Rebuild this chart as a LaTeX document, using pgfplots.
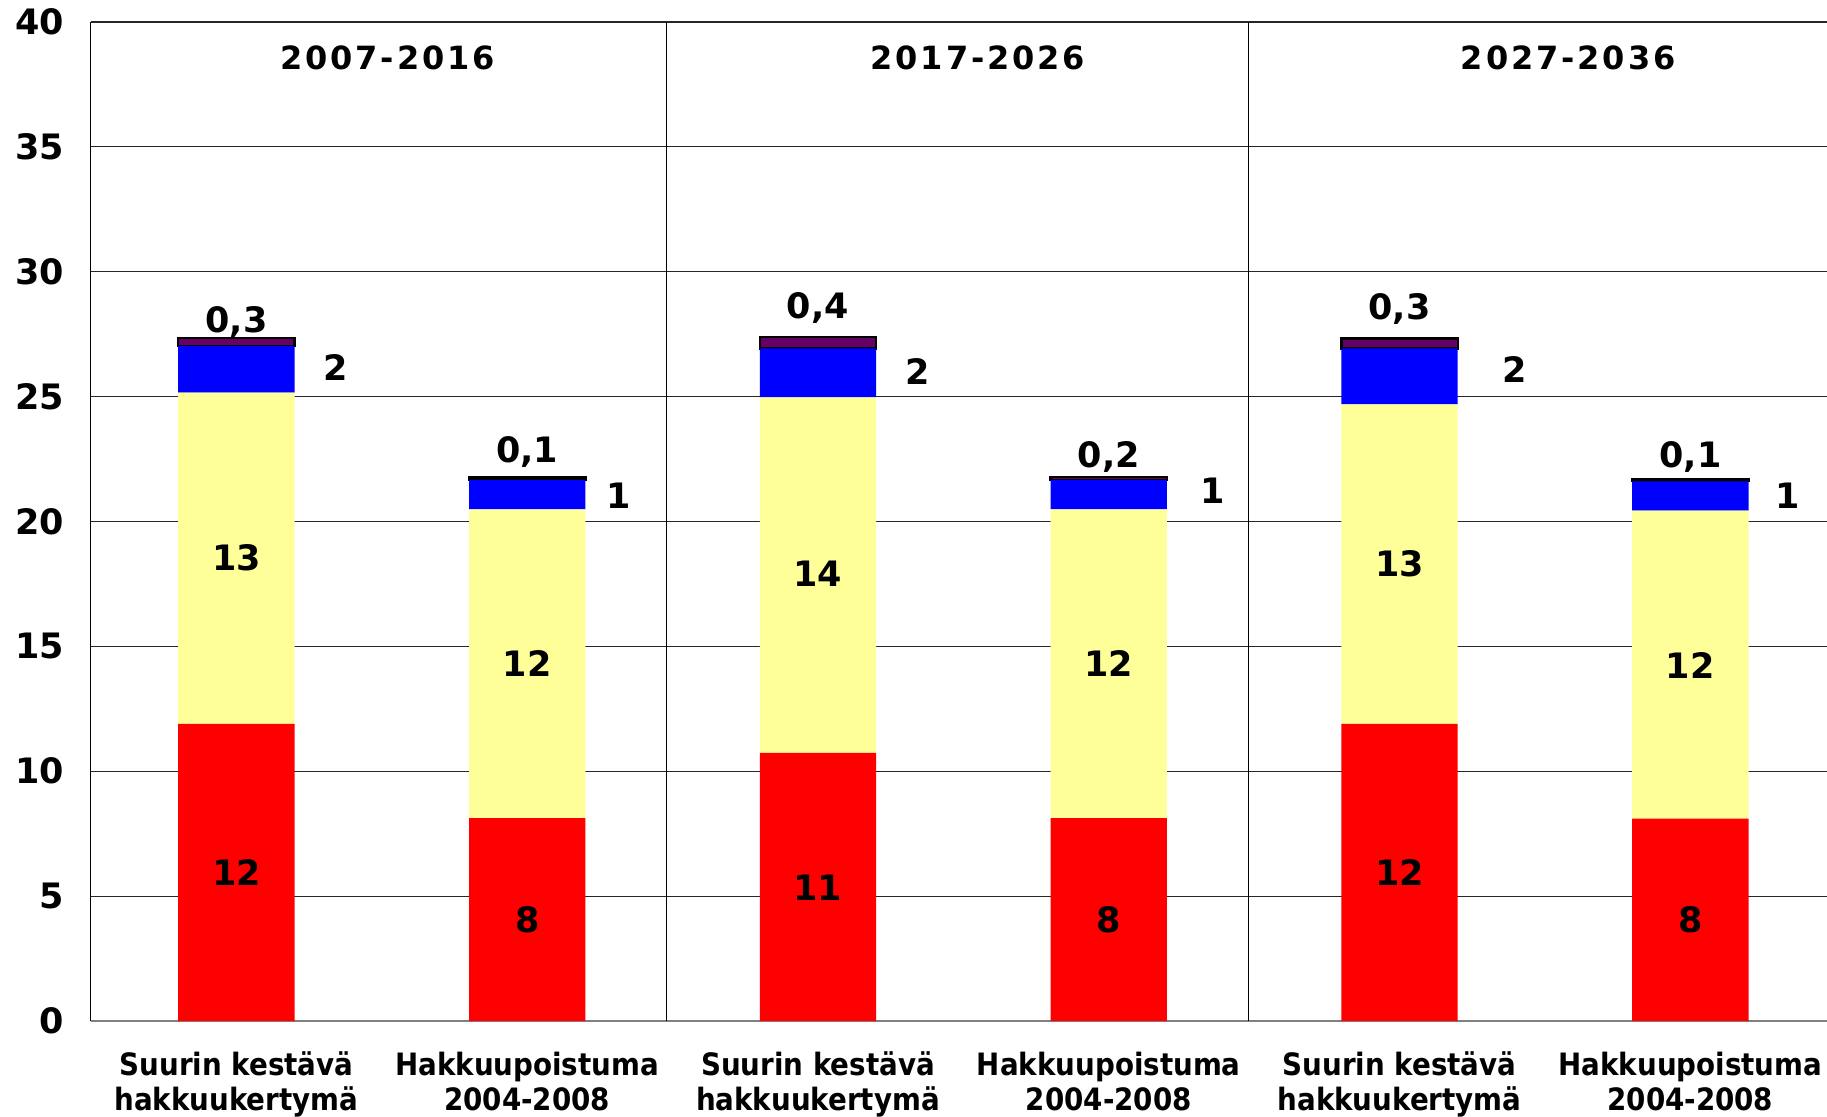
\documentclass[border=0pt]{standalone}
\usepackage{pgfplots}
\pgfplotsset{compat=1.18}
\usepackage{pgfplotstable}
\usepackage{fontspec}
\setmainfont{DejaVu Sans}
\newfontfamily\condfont{DejaVu Sans Condensed}
\definecolor{cred}{RGB}{255,0,0}
\definecolor{cyel}{RGB}{255,255,153}
\definecolor{cblue}{RGB}{0,0,255}
\definecolor{cpurp}{RGB}{102,0,102}

\pgfplotstableread{
x red yellow blue purple
0 11.9 13.26 1.86 0.33
1 8.12 12.37 1.17 0.10
2 10.74 14.23 1.96 0.45
3 8.12 12.37 1.17 0.12
4 11.9 12.79 2.24 0.40
5 8.10 12.34 1.17 0.10
}\data

\pgfplotstableread{
x y label
0 5.93 12
1 4.06 8
2 5.32 11
3 4.06 8
4 5.93 12
5 4.06 8
0 18.53 13
1 14.33 12
2 17.92 14
3 14.33 12
4 18.30 13
5 14.24 12
0.34 26.18 2
1.316 21.05 1
2.344 26.00 2
3.356 21.24 1
4.396 26.09 2
5.336 21.05 1
0 28.0 0,3
1 22.78 0,1
2 28.56 0,4
3 22.59 0,2
4 28.52 0,3
5 22.59 0,1
}\labels

\pgfplotstableread{
x y label
0.52 38.55 2007-2016
2.55 38.55 2017-2026
4.58 38.55 2027-2036
}\titles

\begin{document}
\begin{tikzpicture}
\useasboundingbox (0,0) rectangle (913.5pt,558pt);
\pgfplotsset{common/.style={
  at={(45.5pt,47.5pt)}, anchor=south west, scale only axis,
  width=868pt, height=499.5pt,
  xmin=-0.5, xmax=5.47, ymin=0, ymax=40}}
\begin{axis}[common,
  ybar stacked, bar width=0.4,
  axis x line*=bottom, axis y line*=left,
  x axis line style={draw=gray, line width=1.3pt},
  y axis line style={draw=black, line width=0.5pt},
  ymajorgrids, major grid style={black!85, line width=0.6pt},
  major tick length=0pt,
  ytick={0,5,...,40},
  xtick={0,1,2,3,4,5},
  xticklabels={Suurin kestävä\\hakkuukertymä, Hakkuupoistuma\\2004-2008, Suurin kestävä\\hakkuukertymä, Hakkuupoistuma\\2004-2008, Suurin kestävä\\hakkuukertymä, Hakkuupoistuma\\2004-2008},
  xticklabel style={align=center, font=\condfont\bfseries\fontsize{15.4}{17.5}\selectfont, yshift=-12pt},
  /pgf/number format/assume math mode=true,
  yticklabel style={font=\bfseries\fontsize{17.5}{20}\selectfont, xshift=-10pt},
  extra x ticks={1.48,3.48}, extra x tick labels={},
  extra x tick style={grid=major, major grid style={black, line width=0.6pt}},
]
\addplot[fill=cred, draw=none] table[x=x, y=red]{\data};
\addplot[fill=cyel, draw=none] table[x=x, y=yellow]{\data};
\addplot[fill=cblue, draw=none] table[x=x, y=blue]{\data};
\addplot[fill=cpurp, draw=black, line width=1.2pt] table[x=x, y=purple]{\data};
\end{axis}
\begin{axis}[common, axis lines=none, clip=false]
\addplot[draw=none, mark=none, nodes near coords, point meta=explicit symbolic,
  every node near coord/.append style={anchor=center, inner sep=0pt, font=\bfseries\fontsize{17.5}{20}\selectfont}]
  table[x=x, y=y, meta=label]{\labels};
\addplot[draw=none, mark=none, nodes near coords, point meta=explicit symbolic,
  every node near coord/.append style={anchor=center, inner sep=0pt, font=\bfseries\fontsize{16}{19}\selectfont\addfontfeature{LetterSpace=9}}]
  table[x=x, y=y, meta=label]{\titles};
\end{axis}
\end{tikzpicture}
\end{document}
